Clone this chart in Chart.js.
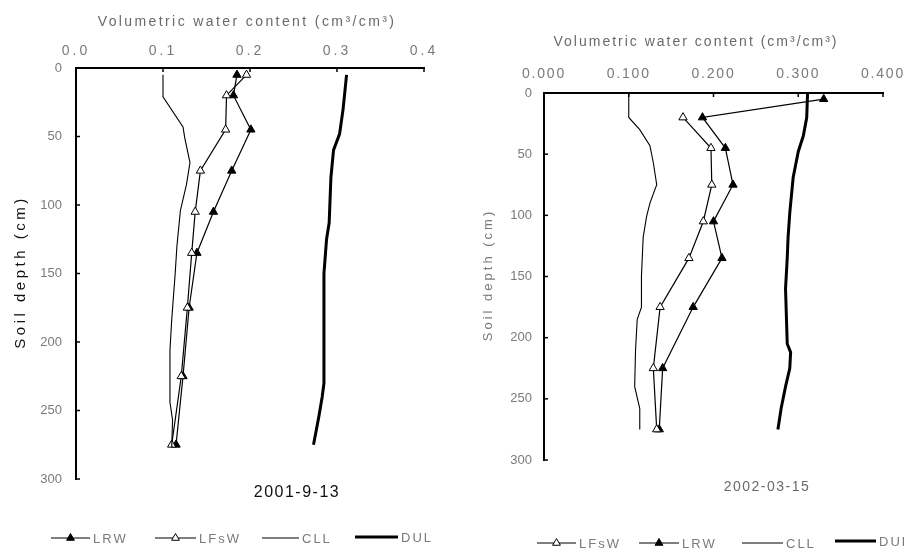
<!DOCTYPE html>
<html><head><meta charset="utf-8">
<script src="https://cdn.jsdelivr.net/npm/chart.js@4.4.1/dist/chart.umd.min.js"></script>
<style>
html,body{margin:0;padding:0;background:#fff;}
#wrap{position:relative;width:904px;height:552px;overflow:hidden;background:#fff;}
canvas{position:absolute;top:0;}
</style></head><body>
<div id="wrap">
<canvas id="c1" width="450" height="552" style="left:0"></canvas>
<canvas id="c2" width="454" height="552" style="left:450px"></canvas>
</div>
<script>
// ---------- DATA ----------
const depths = [5, 20, 45, 75, 105, 135, 175, 225, 275];
const xTickValues = [0, 0.1, 0.2, 0.3, 0.4];
const xTickLabelsLeft = ['0.0', '0.1', '0.2', '0.3', '0.4'];
const xTickLabelsRight = ['0.000', '0.100', '0.200', '0.300', '0.400'];
const yTickValues = [0, 50, 100, 150, 200, 250, 300];

// Panel 1: 2001-9-13
const lrwLeft  = [0.185, 0.181, 0.201, 0.179, 0.158, 0.139, 0.130, 0.123, 0.115];
const lfswLeft = [0.196, 0.173, 0.172, 0.143, 0.137, 0.133, 0.128, 0.121, 0.110];
const cllLeftDepth = [5, 21, 43, 51, 69, 85, 104, 130, 150, 184, 206, 244, 257, 277];
const cllLeft      = [0.100, 0.100, 0.123, 0.125, 0.131, 0.127, 0.120, 0.116, 0.114, 0.110, 0.108, 0.108, 0.111, 0.110];
const dulLeftDepth = [5, 30, 48, 60, 80, 113, 125, 150, 230, 240, 255, 275];
const dulLeft      = [0.311, 0.307, 0.303, 0.296, 0.293, 0.291, 0.288, 0.285, 0.285, 0.283, 0.279, 0.273];

// Panel 2: 2002-03-15
const lrwRight  = [0.330, 0.187, 0.214, 0.223, 0.200, 0.210, 0.176, 0.140, 0.136];
const lfswRight = [null, 0.164, 0.197, 0.198, 0.188, 0.171, 0.137, 0.129, 0.133];
const cllRightDepth = [0, 20, 30, 43, 57, 75, 90, 101, 118, 150, 175, 185, 210, 240, 258, 275];
const cllRight      = [0.100, 0.100, 0.113, 0.125, 0.129, 0.133, 0.125, 0.121, 0.117, 0.115, 0.115, 0.110, 0.108, 0.107, 0.113, 0.113];
const dulRightDepth = [0, 20, 35, 48, 69, 98, 118, 135, 160, 205, 212, 225, 240, 257, 275];
const dulRight      = [0.311, 0.310, 0.306, 0.300, 0.294, 0.290, 0.288, 0.287, 0.285, 0.287, 0.291, 0.290, 0.285, 0.280, 0.276];

// ---------- helpers ----------
function pts(ds, vs) {
  const out = [];
  ds.forEach((d, i) => { if (vs[i] !== null && vs[i] !== undefined) out.push({x: vs[i], y: d}); });
  return out;
}
function tri(ctx, x, y, r, filled) {
  ctx.beginPath();
  ctx.moveTo(x, y - r);
  ctx.lineTo(x + r * 0.866, y + r * 0.5);
  ctx.lineTo(x - r * 0.866, y + r * 0.5);
  ctx.closePath();
  ctx.fillStyle = filled ? '#000' : '#fff';
  ctx.fill();
  ctx.lineWidth = 1;
  ctx.strokeStyle = '#000';
  ctx.stroke();
}

function makeDecor(cfg) {
  return {
    id: 'decor',
    afterDraw(chart) {
      const ctx = chart.ctx, xs = chart.scales.x, ys = chart.scales.y, ca = chart.chartArea;
      ctx.save();
      // inward tick marks
      ctx.strokeStyle = '#000'; ctx.lineWidth = 1.5;
      xTickValues.forEach(v => {
        const px = xs.getPixelForValue(v);
        ctx.beginPath(); ctx.moveTo(px, ca.top); ctx.lineTo(px, ca.top + 4); ctx.stroke();
      });
      yTickValues.forEach(v => {
        const py = ys.getPixelForValue(v);
        ctx.beginPath(); ctx.moveTo(ca.left, py); ctx.lineTo(ca.left + 4, py); ctx.stroke();
      });
      // x tick labels
      ctx.textAlign = 'center'; ctx.textBaseline = 'middle';
      ctx.font = cfg.xTickFont; ctx.fillStyle = cfg.tickColor; ctx.letterSpacing = cfg.xTickSpacing;
      cfg.xLabels.forEach((t, i) => ctx.fillText(t, xs.getPixelForValue(xTickValues[i]), cfg.xTickY));
      // x title
      ctx.font = cfg.titleFont; ctx.fillStyle = cfg.titleColor; ctx.letterSpacing = cfg.titleSpacing;
      ctx.fillText(cfg.xTitle, cfg.xTitleX, cfg.xTitleY);
      // y title
      ctx.save();
      ctx.translate(cfg.yTitleX, cfg.yTitleY); ctx.rotate(-Math.PI / 2);
      ctx.font = cfg.yTitleFont; ctx.fillStyle = cfg.yTitleColor; ctx.letterSpacing = cfg.yTitleSpacing;
      ctx.fillText(cfg.yTitle, 0, 0);
      ctx.restore();
      // date label
      ctx.font = cfg.dateFont; ctx.fillStyle = cfg.dateColor; ctx.letterSpacing = cfg.dateSpacing;
      ctx.fillText(cfg.date, cfg.dateX, cfg.dateY);
      // legend
      ctx.textAlign = 'left';
      cfg.legend.forEach(it => {
        ctx.strokeStyle = '#000'; ctx.lineWidth = it.lw;
        ctx.beginPath(); ctx.moveTo(it.x1, it.y); ctx.lineTo(it.x2, it.y); ctx.stroke();
        if (it.marker) tri(ctx, (it.x1 + it.x2) / 2, it.y, 4.5, it.marker === 'filled');
        ctx.font = cfg.legendFont; ctx.fillStyle = cfg.legendColor; ctx.letterSpacing = cfg.legendSpacing;
        ctx.fillText(it.label, it.x2 + 3, it.y + 1);
      });
      ctx.restore();
    }
  };
}

function datasets(lrw, lfsw, cllD, cll, dulD, dul, order) {
  const sets = {
    LRW: {label: 'LRW', data: pts(depths, lrw), showLine: true, borderColor: '#000', borderWidth: 1.2,
          pointStyle: 'triangle', pointRadius: 4.8, pointBackgroundColor: '#000', pointBorderColor: '#000', pointBorderWidth: 1, clip: false},
    LFsW: {label: 'LFsW', data: pts(depths, lfsw), showLine: true, borderColor: '#000', borderWidth: 1.2,
          pointStyle: 'triangle', pointRadius: 4.8, pointBackgroundColor: '#fff', pointBorderColor: '#000', pointBorderWidth: 1, clip: false},
    CLL: {label: 'CLL', data: pts(cllD, cll), showLine: true, borderColor: '#000', borderWidth: 1.1, pointRadius: 0, clip: false},
    DUL: {label: 'DUL', data: pts(dulD, dul), showLine: true, borderColor: '#000', borderWidth: 3, pointRadius: 0, clip: false}
  };
  return order.map(k => sets[k]);
}

function makeChart(id, dsets, geom, decor) {
  return new Chart(document.getElementById(id), {
    type: 'scatter',
    data: {datasets: dsets},
    options: {
      responsive: false, animation: false, devicePixelRatio: 1,
      layout: {padding: {left: 0, top: 0, right: geom.padRight, bottom: geom.padBottom}},
      plugins: {legend: {display: false}, tooltip: {enabled: false}},
      elements: {line: {tension: 0}},
      scales: {
        x: {type: 'linear', position: 'top', min: 0, max: 0.4,
            ticks: {display: false, stepSize: 0.1},
            grid: {display: false},
            border: {display: true, color: '#000', width: 2},
            afterFit: s => { s.height = geom.top; }},
        y: {type: 'linear', reverse: true, min: 0, max: 300,
            ticks: {stepSize: 50, color: decor.tickColor, font: {family: 'Liberation Sans', size: geom.yTickSize},
                    padding: geom.yTickPad, callback: v => String(v)},
            grid: {display: false, drawTicks: false},
            border: {display: true, color: '#000', width: 2},
            afterFit: s => { s.width = geom.left; }}
      }
    },
    plugins: [makeDecor(decor)]
  });
}

const common = {
  tickColor: '#7a7a7a', titleColor: '#6a6a6a', legendColor: '#7a7a7a',
  xTitle: 'Volumetric water content (cm\u00B3/cm\u00B3)', yTitle: 'Soil depth (cm)'
};

makeChart('c1',
  datasets(lrwLeft, lfswLeft, cllLeftDepth, cllLeft, dulLeftDepth, dulLeft, ['CLL', 'DUL', 'LFsW', 'LRW']),
  {top: 68, left: 76, padRight: 26, padBottom: 73, yTickSize: 13, yTickPad: 14},
  Object.assign({}, common, {
    xLabels: xTickLabelsLeft, xTickFont: '14px "Liberation Sans"', xTickSpacing: '3px', xTickY: 51,
    titleFont: '14px "Liberation Sans"', titleSpacing: '2.4px', xTitleX: 247, xTitleY: 22,
    yTitleFont: '15px "Liberation Sans"', yTitleColor: '#111', yTitleSpacing: '3.5px', yTitleX: 21, yTitleY: 272,
    date: '2001-9-13', dateFont: '16px "Liberation Sans"', dateColor: '#111', dateSpacing: '1.5px', dateX: 297, dateY: 493,
    legendFont: '13px "Liberation Sans"', legendSpacing: '2px',
    legend: [
      {x1: 51, x2: 90, y: 538, lw: 1.2, marker: 'filled', label: 'LRW'},
      {x1: 155, x2: 196, y: 538, lw: 1.2, marker: 'open', label: 'LFsW'},
      {x1: 262, x2: 299, y: 538, lw: 1.2, label: 'CLL'},
      {x1: 355, x2: 398, y: 537, lw: 3, label: 'DUL'}
    ]
  })
);

makeChart('c2',
  datasets(lrwRight, lfswRight, cllRightDepth, cllRight, dulRightDepth, dulRight, ['CLL', 'DUL', 'LFsW', 'LRW']),
  {top: 93, left: 94, padRight: 21, padBottom: 92, yTickSize: 13, yTickPad: 12},
  Object.assign({}, common, {
    xLabels: xTickLabelsRight, xTickFont: '14px "Liberation Sans"', xTickSpacing: '1.8px', xTickY: 74,
    titleFont: '14px "Liberation Sans"', titleSpacing: '2px', xTitleX: 246, xTitleY: 42,
    yTitleFont: '13px "Liberation Sans"', yTitleColor: '#7a7a7a', yTitleSpacing: '3px', yTitleX: 38, yTitleY: 275,
    date: '2002-03-15', dateFont: '14px "Liberation Sans"', dateColor: '#6a6a6a', dateSpacing: '1.5px', dateX: 317, dateY: 487,
    legendFont: '13px "Liberation Sans"', legendSpacing: '2px',
    legend: [
      {x1: 87, x2: 126, y: 543, lw: 1.2, marker: 'open', label: 'LFsW'},
      {x1: 189, x2: 229, y: 543, lw: 1.2, marker: 'filled', label: 'LRW'},
      {x1: 292, x2: 333, y: 543, lw: 1.2, label: 'CLL'},
      {x1: 385, x2: 426, y: 541, lw: 3, label: 'DUL'}
    ]
  })
);
</script>
</body></html>
